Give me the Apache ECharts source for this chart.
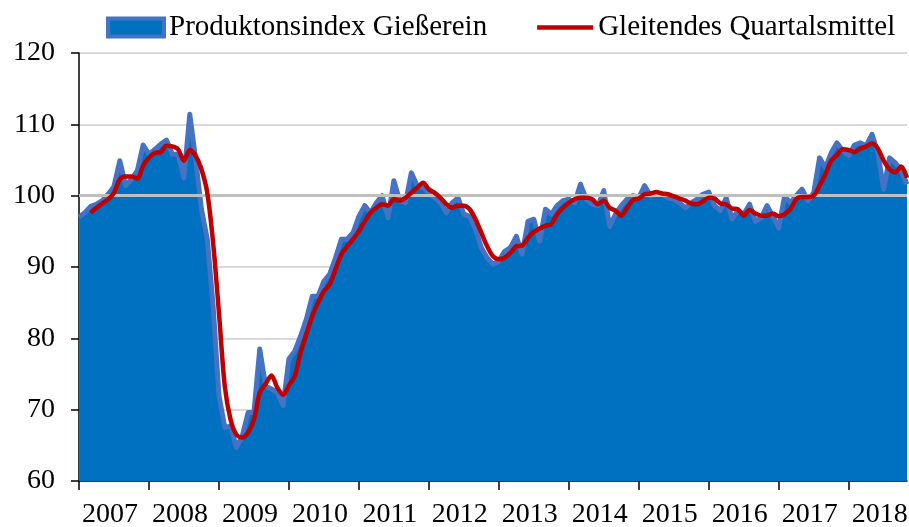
<!DOCTYPE html>
<html>
<head>
<meta charset="utf-8">
<script src="https://cdn.jsdelivr.net/npm/echarts@6/dist/echarts.min.js"></script>
<style>
  html, body { margin: 0; padding: 0; background: #ffffff; }
  #chart { width: 909px; height: 527px; }
</style>
</head>
<body>
<div id="chart"></div>
<script>
// monthly index, Jan 2007 .. Nov 2018
var years = ['2007','2008','2009','2010','2011','2012','2013','2014','2015','2016','2017','2018'];
var yTicks = [60, 70, 80, 90, 100, 110, 120];

var produktion = [
  97.0, 97.6, 98.5, 98.8, 99.3, 100.2, 101.3, 104.9, 101.4, 102.3, 103.5, 107.1,
  105.8, 106.5, 107.2, 107.8, 105.8, 105.8, 102.5, 111.4, 105.1, 98.1, 93.9, 84.5,
  72.0, 67.5, 67.7, 64.7, 66.3, 69.6, 69.6, 78.5, 73.3, 72.9, 72.4, 70.6,
  77.1, 78.2, 80.3, 82.7, 85.9, 85.9, 88.0, 89.0, 91.3, 93.9, 93.9, 94.8,
  97.1, 98.6, 97.6, 99.0, 100.0, 96.9, 102.1, 99.3, 99.0, 103.2, 101.4, 101.1,
  100.4, 99.7, 99.0, 97.6, 99.0, 99.7, 97.4, 97.1, 95.3, 92.7, 91.3, 90.4,
  90.8, 92.2, 92.7, 94.3, 91.8, 96.4, 96.7, 93.6, 98.1, 97.4, 98.6, 99.3,
  99.5, 99.0, 101.6, 99.5, 98.8, 98.6, 100.7, 95.7, 97.4, 98.6, 99.5, 100.0,
  99.7, 101.4, 100.0, 100.2, 100.2, 99.7, 99.5, 99.0, 98.3, 99.0, 99.5, 100.2,
  100.5, 98.6, 97.9, 99.7, 96.7, 97.9, 97.4, 98.8, 96.4, 96.9, 98.6, 97.1,
  95.5, 99.9, 99.0, 100.0, 100.9, 99.3, 100.4, 105.3, 103.9, 106.0, 107.4, 106.3,
  105.6, 107.1, 107.4, 107.0, 108.6, 106.0, 100.9, 105.3, 104.6, 103.5, 101.6
];

var quartalsmittel = [
  null, null, 97.6, 98.3, 98.9, 99.5, 100.4, 102.3, 102.7, 102.7, 102.4, 104.2,
  105.3, 106.0, 106.1, 107.0, 106.9, 106.5, 104.9, 106.4, 105.6, 103.7, 100.4, 93.4,
  83.6, 73.3, 68.6, 66.5, 66.1, 66.8, 68.6, 72.4, 73.6, 74.8, 73.1, 72.1,
  73.4, 74.7, 78.0, 80.6, 83.1, 85.0, 86.6, 87.6, 89.7, 91.8, 92.9, 93.9,
  95.0, 96.4, 97.6, 98.3, 98.8, 98.6, 99.5, 99.3, 99.7, 100.4, 101.1, 101.8,
  100.9, 100.4, 99.7, 98.8, 98.3, 98.6, 98.6, 98.1, 96.7, 94.8, 92.9, 91.5,
  91.1, 91.3, 92.0, 92.9, 93.0, 94.1, 94.9, 95.4, 95.8, 96.0, 97.4, 98.3,
  99.0, 99.5, 99.7, 99.7, 99.5, 98.8, 99.3, 98.3, 97.9, 97.2, 98.3, 99.4,
  99.6, 100.2, 100.3, 100.5, 100.3, 100.2, 99.9, 99.6, 99.3, 98.9, 98.8, 99.2,
  99.7, 99.6, 98.9, 98.8, 98.2, 98.1, 97.2, 98.0, 97.5, 97.2, 97.2, 97.5,
  97.1, 97.4, 98.1, 99.5, 99.8, 99.8, 100.0, 101.4, 103.0, 104.9, 105.7, 106.5,
  106.4, 106.1, 106.6, 106.9, 107.3, 106.6, 104.9, 103.7, 103.3, 104.1, 102.5
];

// month labels "2007-01" ...
var months = [];
for (var i = 0; i < produktion.length; i++) {
  var m = i % 12 + 1;
  months.push(years[Math.floor(i / 12)] + '-' + (m < 10 ? '0' + m : m));
}

var chart = echarts.init(document.getElementById('chart'));
var serif = '"Liberation Serif", "Times New Roman", serif';

var option = {
  animation: false,
  textStyle: { fontFamily: serif },
  legend: {
    left: 106,
    top: 13,
    padding: 0,
    itemWidth: 56,
    itemHeight: 18,
    itemGap: 50,
    textStyle: { fontFamily: serif, fontSize: 29, color: '#000' },
    data: [
      {
        name: 'Produktonsindex Gießerein',
        icon: 'rect',
        itemStyle: { color: '#0070C0', borderColor: '#4472C4', borderWidth: 4 }
      },
      {
        name: 'Gleitendes Quartalsmittel',
        icon: 'path://M0,0 L56,0 L56,4.5 L0,4.5 Z',
        itemStyle: { color: '#C00000' }
      }
    ]
  },
  grid: { left: 79, right: 2, top: 53, bottom: 46, containLabel: false, outerBoundsMode: 'none' },
  xAxis: {
    type: 'category',
    data: months,
    boundaryGap: false,
    axisLine: { lineStyle: { color: '#000', width: 1.5 } },
    axisTick: {
      interval: function (idx) { return idx % 12 === 0; },
      length: 9,
      lineStyle: { color: '#000', width: 1.5 }
    },
    axisLabel: {
      interval: function (idx) { return idx % 12 === 6; },
      formatter: function (v) { return v.slice(0, 4); },
      fontFamily: serif,
      fontSize: 28,
      color: '#000',
      margin: 20,
      padding: [0, 8, 0, 0]
    },
    splitLine: { show: false }
  },
  yAxis: {
    type: 'value',
    min: yTicks[0],
    max: yTicks[yTicks.length - 1],
    interval: 10,
    axisLine: { show: true, lineStyle: { color: '#000', width: 1.5 } },
    axisTick: { show: true, length: 8, lineStyle: { color: '#000', width: 1.5 } },
    axisLabel: { fontFamily: serif, fontSize: 28, color: '#000', margin: 24 },
    splitLine: { lineStyle: { color: '#D9D9D9', width: 2 } }
  },
  series: [
    {
      name: 'Produktonsindex Gießerein',
      type: 'line',
      data: produktion,
      showSymbol: false,
      z: 1,
      lineStyle: { color: '#4472C4', width: 5, join: 'round' },
      itemStyle: { color: '#0070C0' },
      areaStyle: { color: '#0070C0', opacity: 1 },
      markLine: {
        silent: true,
        symbol: 'none',
        label: { show: false },
        lineStyle: { color: '#BFBFBF', width: 3, type: 'solid' },
        data: [{ yAxis: 100 }]
      }
    },
    {
      name: 'Gleitendes Quartalsmittel',
      type: 'line',
      data: quartalsmittel,
      showSymbol: false,
      smooth: 0.3,
      z: 5,
      lineStyle: { color: '#C00000', width: 4.5 },
      itemStyle: { color: '#C00000' }
    }
  ]
};

chart.setOption(option);
</script>
</body>
</html>
